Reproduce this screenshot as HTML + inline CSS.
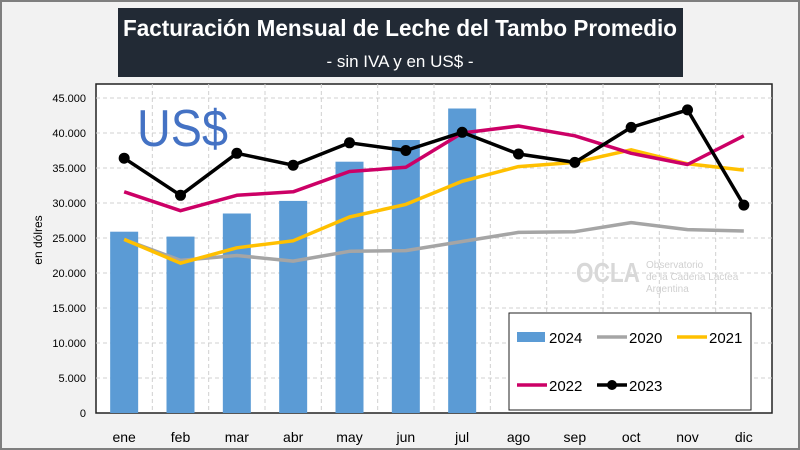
<!DOCTYPE html>
<html><head><meta charset="utf-8"><style>
body{margin:0;width:800px;height:450px;overflow:hidden;background:#f0f0f0;font-family:"Liberation Sans",sans-serif}
#frame{position:absolute;left:0;top:0;width:796px;height:446px;border:2px solid #7f7f7f;background:#f2f2f2}
</style></head><body>
<div id="frame"></div>
<svg id="c" width="800" height="450" style="position:absolute;left:0;top:0"></svg>
<script>
const months=["ene","feb","mar","abr","may","jun","jul","ago","sep","oct","nov","dic"];
const yTicks=[0,5000,10000,15000,20000,25000,30000,35000,40000,45000];
const s2024=[25900,25200,28500,30300,35900,39000,43500];
const s2020=[24800,21800,22500,21700,23100,23200,24500,25800,25900,27200,26200,26000];
const s2021=[24800,21400,23600,24600,28000,29800,33100,35200,35800,37600,35600,34700];
const s2022=[31600,28900,31100,31600,34500,35100,40000,41000,39600,37100,35500,39600];
const s2023=[36400,31100,37100,35400,38600,37500,40100,37000,35800,40800,43300,29700];
const svg=document.getElementById('c');const NS='http://www.w3.org/2000/svg';
function mk(t,a,p){const e=document.createElementNS(NS,t);for(const k in a)e.setAttribute(k,a[k]);(p||svg).appendChild(e);return e;}
const L=96,R=772,T=84,B=413;const step=(R-L)/12;
const x=i=>L+step*(i+0.5);const y=v=>B-v/45000*315;
let tb=mk('rect',{x:118,y:8,width:565,height:69,fill:'#222a35'});


let t1=mk('text',{x:123,y:36,fill:'#fff','font-size':23,'font-weight':'bold',textLength:554,lengthAdjust:'spacingAndGlyphs'});t1.textContent='Facturación Mensual de Leche del Tambo Promedio';


let t2=mk('text',{x:400,y:67,'text-anchor':'middle',fill:'#fff','font-size':17});t2.textContent='- sin IVA y en US$ -';


let pa=mk('rect',{x:L,y:T,width:R-L,height:B-T,fill:'#fff',stroke:'#222','stroke-width':1.5});


yTicks.forEach(v=>{if(v>0){let g=mk('line',{x1:L,x2:R,y1:y(v),y2:y(v),stroke:'#d0d0d0','stroke-dasharray':'4,3'});}
let t=mk('text',{x:86,y:y(v)+4,'text-anchor':'end','font-size':11,fill:'#000'});t.textContent=v===0?'0':v.toLocaleString('de-DE');

});
for(let i=1;i<12;i++){let g=mk('line',{x1:L+step*i,x2:L+step*i,y1:T,y2:B,stroke:'#d0d0d0','stroke-dasharray':'4,3'});}
months.forEach((m,i)=>{let t=mk('text',{x:x(i),y:442,'text-anchor':'middle','font-size':14,fill:'#000'});t.textContent=m;

});
let yt=mk('text',{x:0,y:0,transform:'translate(42,240) rotate(-90)','text-anchor':'middle','font-size':12});yt.textContent='en dólres';


let us=mk('text',{x:137,y:146,'font-size':52,fill:'#4472c4',textLength:91,lengthAdjust:'spacingAndGlyphs'});us.textContent='US$';


let wm=mk('text',{x:576,y:282,'font-size':28,'font-weight':'bold',fill:'#d8d8d8',textLength:64,lengthAdjust:'spacingAndGlyphs'});wm.textContent='OCLA';


[['Observatorio',268],['de la Cadena Láctea',280],['Argentina',292]].forEach(([s,yy])=>{let w=mk('text',{x:646,y:yy,'font-size':10,fill:'#d0d0d0'});w.textContent=s;});
s2024.forEach((v,i)=>{let r=mk('rect',{x:x(i)-14,y:y(v),width:28,height:B-y(v),fill:'#5b9bd5'});

});
function line(data,color,name,dots){let p=mk('polyline',{points:data.map((v,i)=>x(i)+','+y(v)).join(' '),fill:'none',stroke:color,'stroke-width':3.5,'stroke-linejoin':'round'});


if(dots)data.forEach((v,i)=>{let c=mk('circle',{cx:x(i),cy:y(v),r:5.5,fill:color});});}
line(s2020,'#a5a5a5','line-2020');line(s2021,'#ffc000','line-2021');line(s2022,'#cc0066','line-2022');line(s2023,'#000','line-2023',true);
let lg=mk('rect',{x:509,y:313,width:242,height:97,fill:'#fff',stroke:'#222','stroke-width':1});


function le(lx,ly,color,label,kind){if(kind==='bar')mk('rect',{x:lx,y:ly-5,width:28,height:10,fill:color});else{mk('line',{x1:lx,x2:lx+30,y1:ly,y2:ly,stroke:color,'stroke-width':3.5});if(kind==='dot')mk('circle',{cx:lx+15,cy:ly,r:5,fill:color});}
let t=mk('text',{x:lx+32,y:ly+6,'font-size':15});t.textContent=label;

}
le(517,337,'#5b9bd5','2024','bar');le(597,337,'#a5a5a5','2020');le(677,337,'#ffc000','2021');le(517,385,'#cc0066','2022');le(597,385,'#000','2023','dot');
</script></body></html>
